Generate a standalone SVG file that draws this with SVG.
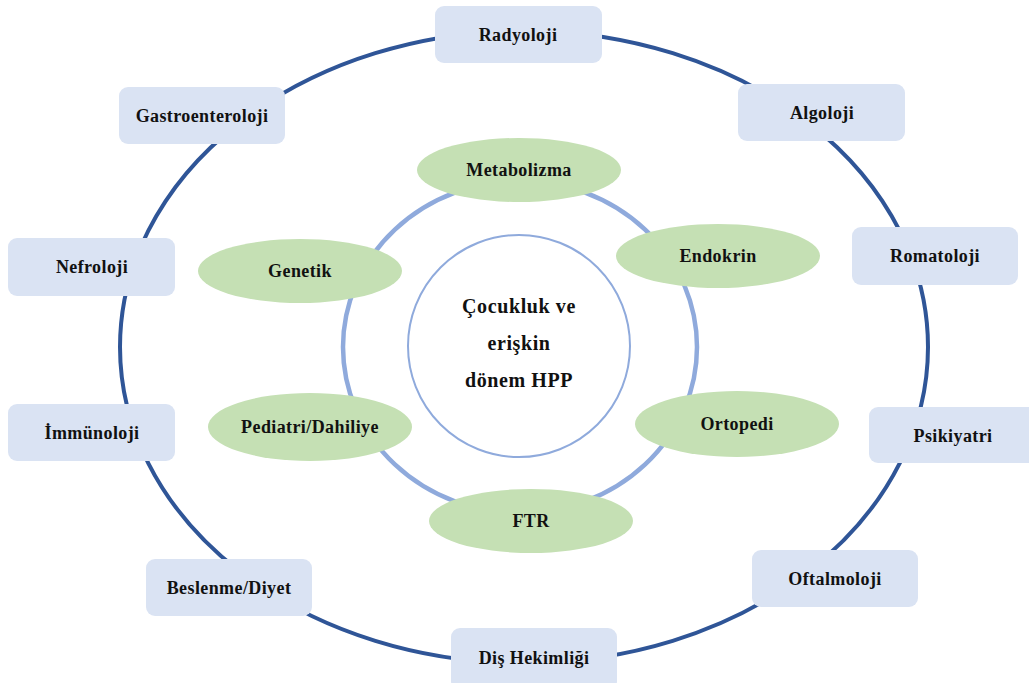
<svg xmlns="http://www.w3.org/2000/svg" width="1029" height="683" viewBox="0 0 1029 683">
  <style>
    .lbl { font-family: "Liberation Serif", "Times New Roman", serif; font-weight: bold; font-size: 18px; letter-spacing: 0.4px; fill: #111; text-anchor: middle; }
    .big { font-size: 20px; letter-spacing: 0.6px; }
    .box { fill: #dae3f3; }
    .oval { fill: #c5e0b4; }
    .ring-outer { fill: none; stroke: #2f5597; stroke-width: 4; }
    .ring-inner { fill: none; stroke: #8faadc; stroke-width: 4.5; }
    .core { fill: #fff; stroke: #8faadc; stroke-width: 2; }
  </style>
  <rect width="1029" height="683" fill="#fff"/>

  <!-- connecting rings -->
  <g id="connectors">
    <ellipse class="ring-outer" cx="524" cy="347" rx="404" ry="316"/>
    <ellipse class="ring-inner" cx="520" cy="347" rx="177" ry="166"/>
  </g>

  <!-- centre -->
  <g id="center">
    <circle class="core" cx="519" cy="346" r="111"/>
    <text class="lbl big" x="519" y="313">Çocukluk ve</text>
    <text class="lbl big" x="519" y="350">erişkin</text>
    <text class="lbl big" x="519" y="387">dönem HPP</text>
  </g>

  <!-- inner specialties -->
  <g id="metabolizma"><ellipse class="oval" cx="519" cy="170" rx="102" ry="32"/><text class="lbl" x="519" y="176">Metabolizma</text></g>
  <g id="endokrin"><ellipse class="oval" cx="718" cy="256" rx="102" ry="32"/><text class="lbl" x="718" y="262">Endokrin</text></g>
  <g id="genetik"><ellipse class="oval" cx="300" cy="271" rx="102" ry="32"/><text class="lbl" x="300" y="277">Genetik</text></g>
  <g id="pediatri"><ellipse class="oval" cx="310" cy="427" rx="102" ry="34"/><text class="lbl" x="310" y="433">Pediatri/Dahiliye</text></g>
  <g id="ortopedi"><ellipse class="oval" cx="737" cy="424" rx="102" ry="33"/><text class="lbl" x="737" y="430">Ortopedi</text></g>
  <g id="ftr"><ellipse class="oval" cx="531" cy="521" rx="102" ry="32"/><text class="lbl" x="531" y="527">FTR</text></g>

  <!-- outer specialties -->
  <g id="radyoloji"><rect class="box" x="435" y="6" width="167" height="57" rx="9"/><text class="lbl" x="518" y="41">Radyoloji</text></g>
  <g id="algoloji"><rect class="box" x="738" y="84" width="167" height="57" rx="9"/><text class="lbl" x="822" y="119">Algoloji</text></g>
  <g id="romatoloji"><rect class="box" x="852" y="227" width="166" height="58" rx="9"/><text class="lbl" x="935" y="262">Romatoloji</text></g>
  <g id="psikiyatri"><rect class="box" x="869" y="407" width="168" height="56" rx="9"/><text class="lbl" x="953" y="442">Psikiyatri</text></g>
  <g id="oftalmoloji"><rect class="box" x="752" y="550" width="166" height="57" rx="9"/><text class="lbl" x="835" y="585">Oftalmoloji</text></g>
  <g id="dis-hekimligi"><rect class="box" x="451" y="628" width="166" height="62" rx="9"/><text class="lbl" x="534" y="664">Diş Hekimliği</text></g>
  <g id="beslenme"><rect class="box" x="146" y="559" width="166" height="57" rx="9"/><text class="lbl" x="229" y="594">Beslenme/Diyet</text></g>
  <g id="immunoloji"><rect class="box" x="8" y="404" width="167" height="57" rx="9"/><text class="lbl" x="92" y="439">İmmünoloji</text></g>
  <g id="nefroloji"><rect class="box" x="8" y="238" width="167" height="58" rx="9"/><text class="lbl" x="92" y="273">Nefroloji</text></g>
  <g id="gastroenteroloji"><rect class="box" x="119" y="87" width="166" height="57" rx="9"/><text class="lbl" x="202" y="122">Gastroenteroloji</text></g>
</svg>
